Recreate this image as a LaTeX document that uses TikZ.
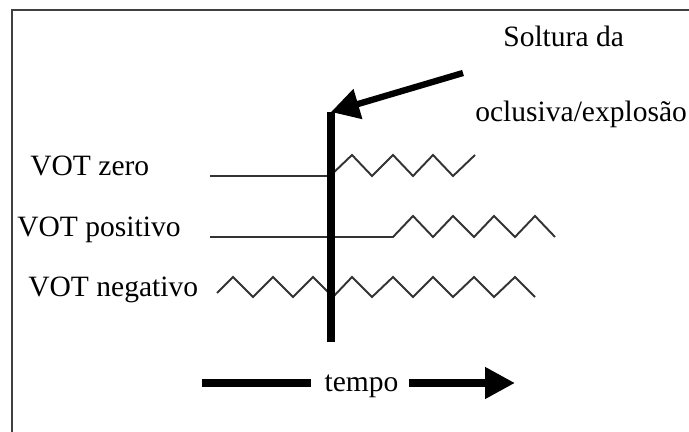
\documentclass[tikz,border=0pt]{standalone}
\usepackage{fontspec}
\setmainfont{Liberation Serif}
\usetikzlibrary{arrows.meta}
\tikzstyle{trace} = [draw,line width=1.1pt,color=black!80]
\tikzstyle{heavy} = [draw,line width=4.8pt]
\tikzstyle{frame} = [draw,line width=1.2pt,color=black!75]

\begin{document}
\begin{tikzpicture}[font=\fontsize{16.8}{20}\selectfont,
    txt/.style={inner sep=0pt,anchor=base west},
    pointer/.style={draw,line width=3.6pt,-{Triangle[length=16pt,width=17pt]}},
    timeline/.style={draw,line width=4.2pt}]

    \useasboundingbox (0,0) rectangle (13.78,8.64);
    \draw[frame] (0.24,0) -- (0.24,8.44) -- (13.78,8.44);

    \node[txt] (sol) at (10.06,7.70) {Soltura da};
    \node[txt] (ocl) at (9.50,6.20) {oclusiva/explosão};

    \node[txt] (zero) at (0.60,5.12) {VOT zero};
    \node[txt] (pos) at (0.34,3.90) {VOT positivo};
    \node[txt] (neg) at (0.56,2.70) {VOT negativo};

    \coordinate (top) at (6.62,6.40);
    \coordinate (bot) at (6.62,1.80);
    \coordinate (tail) at (9.26,7.18);

    \coordinate (z0) at (4.20,5.12);
    \coordinate (p0) at (4.20,3.90);
    \coordinate (n0) at (4.34,2.78);

    % VOT zero
    \draw[trace] (z0) -- (6.60,5.12) -- (7.04,5.54) -- (7.44,5.12) -- (7.86,5.54)
        -- (8.26,5.12) -- (8.66,5.54) -- (9.06,5.12) -- (9.50,5.54);

    % VOT positivo
    \draw[trace] (p0) -- (7.86,3.90) -- (8.26,4.32) -- (8.66,3.90) -- (9.06,4.32)
        -- (9.48,3.90) -- (9.88,4.32) -- (10.30,3.90) -- (10.70,4.32) -- (11.10,3.90);

    % VOT negativo
    \draw[trace] (n0) -- (4.66,3.10) -- (5.06,2.70) -- (5.46,3.10) -- (5.86,2.70)
        -- (6.26,3.10) -- (6.66,2.70) -- (7.04,3.10) -- (7.44,2.70) -- (7.86,3.10)
        -- (8.26,2.70) -- (8.66,3.10) -- (9.06,2.70) -- (9.48,3.10) -- (9.88,2.70)
        -- (10.30,3.10) -- (10.70,2.70);

    \draw[heavy] (top) -- (bot);
    \draw[pointer] (tail) -- (top);

    \node[inner sep=0pt,anchor=base] (tempo) at (7.23,0.80) {tempo};
    \coordinate (tl) at (4.04,0.98);
    \coordinate (tr) at (10.30,0.98);

    \draw[timeline] (tl) -- ([xshift=-0.26cm]tempo.west |- tl);
    \draw[timeline,-{Triangle[length=17pt,width=17pt]}] ([xshift=0.2cm]tempo.east |- tr) -- (tr);

\end{tikzpicture}
\end{document}
